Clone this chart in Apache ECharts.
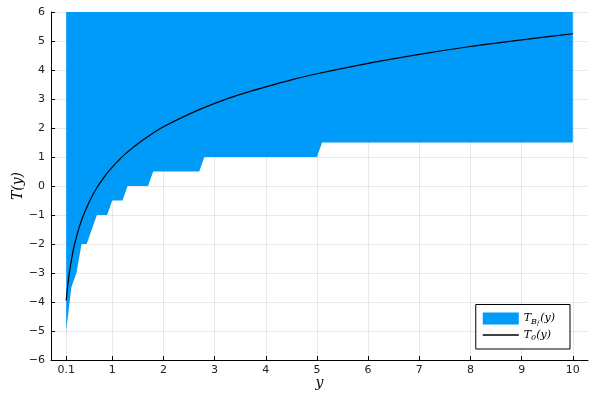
<!DOCTYPE html>
<html>
<head>
<meta charset="utf-8">
<script src="https://cdn.jsdelivr.net/npm/echarts@6/dist/echarts.min.js"></script>
<style>html,body{margin:0;padding:0;background:#fff}#c{width:600px;height:400px}</style>
</head>
<body>
<div id="c"></div>
<script>
// lower boundary of T_{B_f}(y) (the fill extends up to the top of the axis)
const yGrid = [0.1,0.2,0.3,0.4,0.5,0.6,0.7,0.8,0.9,1.0,1.1,1.2,1.3,1.4,1.5,1.6,1.7,1.8,1.9,2.0,2.1,2.2,2.3,2.4,2.5,2.6,2.7,2.8,3.0,3.5,4.0,4.5,5.0,5.1,6,7,8,9,10];
const tbLower = [-5,-3.5,-3,-2,-2,-1.5,-1,-1,-1,-0.5,-0.5,-0.5,0,0,0,0,0,0.5,0.5,0.5,0.5,0.5,0.5,0.5,0.5,0.5,0.5,1,1,1,1,1,1,1.5,1.5,1.5,1.5,1.5,1.5];
// T_0(y) curve
const t0X = [0.1,0.125,0.15,0.175,0.2,0.25,0.3,0.35,0.4,0.45,0.5,0.6,0.7,0.8,0.9,1.0,1.1,1.25,1.5,1.75,2,2.5,3,3.5,4,4.5,5,6,7,8,9,10];
const t0Y = [-3.95,-3.51,-3.14,-2.84,-2.57,-2.12,-1.76,-1.45,-1.18,-0.95,-0.74,-0.37,-0.06,0.20,0.44,0.65,0.84,1.10,1.46,1.77,2.04,2.48,2.85,3.16,3.42,3.66,3.87,4.23,4.54,4.81,5.04,5.25];
const xTicks = [0.1,1,2,3,4,5,6,7,8,9,10];
const yTicks = [-6,-5,-4,-3,-2,-1,0,1,2,3,4,5,6];

const chart = echarts.init(document.getElementById('c'), null, {renderer:'canvas'});
const fmtMinus = v => String(v).replace('-', '\u2212');
const serif = 'DejaVu Serif';
chart.setOption({
  animation: false,
  grid: {left: 51, right: 12, top: 12, bottom: 40, containLabel: false, outerBoundsMode: 'none'},
  xAxis: {
    type: 'value', min: -0.197, max: 10.297,
    axisLine: {show: true, onZero: false, lineStyle: {color: '#000', width: 1}},
    axisTick: {show: true, inside: true, length: 4, customValues: xTicks, lineStyle: {color: '#000'}},
    axisLabel: {customValues: xTicks, formatter: v => (Math.abs(v-0.1)<1e-9 ? '0.1' : String(Math.round(v))), color: '#222', fontSize: 11, fontFamily: 'DejaVu Sans', margin: 5},
    splitLine: {show: true, lineStyle: {color: 'rgba(0,0,0,0.09)', width: 1}},
    name: 'y', nameLocation: 'middle', nameGap: 16, nameMoveOverlap: false,
    nameTextStyle: {fontFamily: serif, fontStyle: 'italic', fontSize: 14, color: '#000'}
  },
  yAxis: {
    type: 'value', min: yTicks[0], max: yTicks[yTicks.length-1], interval: 1,
    axisLine: {show: true, onZero: false, lineStyle: {color: '#000', width: 1}},
    axisTick: {show: true, inside: true, length: 4, lineStyle: {color: '#000'}},
    axisLabel: {formatter: fmtMinus, color: '#222', fontSize: 11, fontFamily: 'DejaVu Sans', margin: 6},
    splitLine: {show: true, lineStyle: {color: 'rgba(0,0,0,0.09)', width: 1}},
    name: 'T(y)', nameLocation: 'middle', nameGap: 26, nameRotate: 90, nameMoveOverlap: false,
    nameTextStyle: {fontFamily: serif, fontStyle: 'italic', fontSize: 14, color: '#000'}
  },
  legend: {
    right: 30, bottom: 51, orient: 'vertical',
    backgroundColor: '#fff', borderColor: '#000', borderWidth: 1,
    padding: [8, 15, 7, 7], itemGap: 3, itemWidth: 36, itemHeight: 12,
    data: [{name: 'TBf', icon: 'rect'}, {name: 'T0', icon: 'path://M0,0h36v1.3h-36z'}],
    formatter: n => n === 'TBf' ? '{i|T}{s|B}{ss|f}{i|(y)}' : '{i|T}{s|0}{i|(y)}',
    textStyle: {
      fontFamily: serif, fontSize: 11, color: '#000',
      rich: {
        i: {fontFamily: serif, fontStyle: 'italic', fontSize: 11, color: '#000'},
        s: {fontFamily: serif, fontStyle: 'italic', fontSize: 8, color: '#000', padding: [6, 0, 0, 0]},
        ss: {fontFamily: serif, fontStyle: 'italic', fontSize: 6, color: '#000', padding: [10, 1, 0, 0]}
      }
    }
  },
  series: [
    {
      name: 'TBf', type: 'line', color: '#009af9', symbol: 'none', z: 1,
      data: yGrid.map((x, i) => [x, tbLower[i]]),
      lineStyle: {width: 0},
      areaStyle: {color: '#009af9', opacity: 1, origin: 'end'}
    },
    {
      name: 'T0', type: 'line', color: '#000', symbol: 'none', smooth: 0.3, z: 3,
      data: t0X.map((x, i) => [x, t0Y[i]]),
      lineStyle: {width: 1.2, color: '#000'}
    }
  ]
});
</script>
</body>
</html>
